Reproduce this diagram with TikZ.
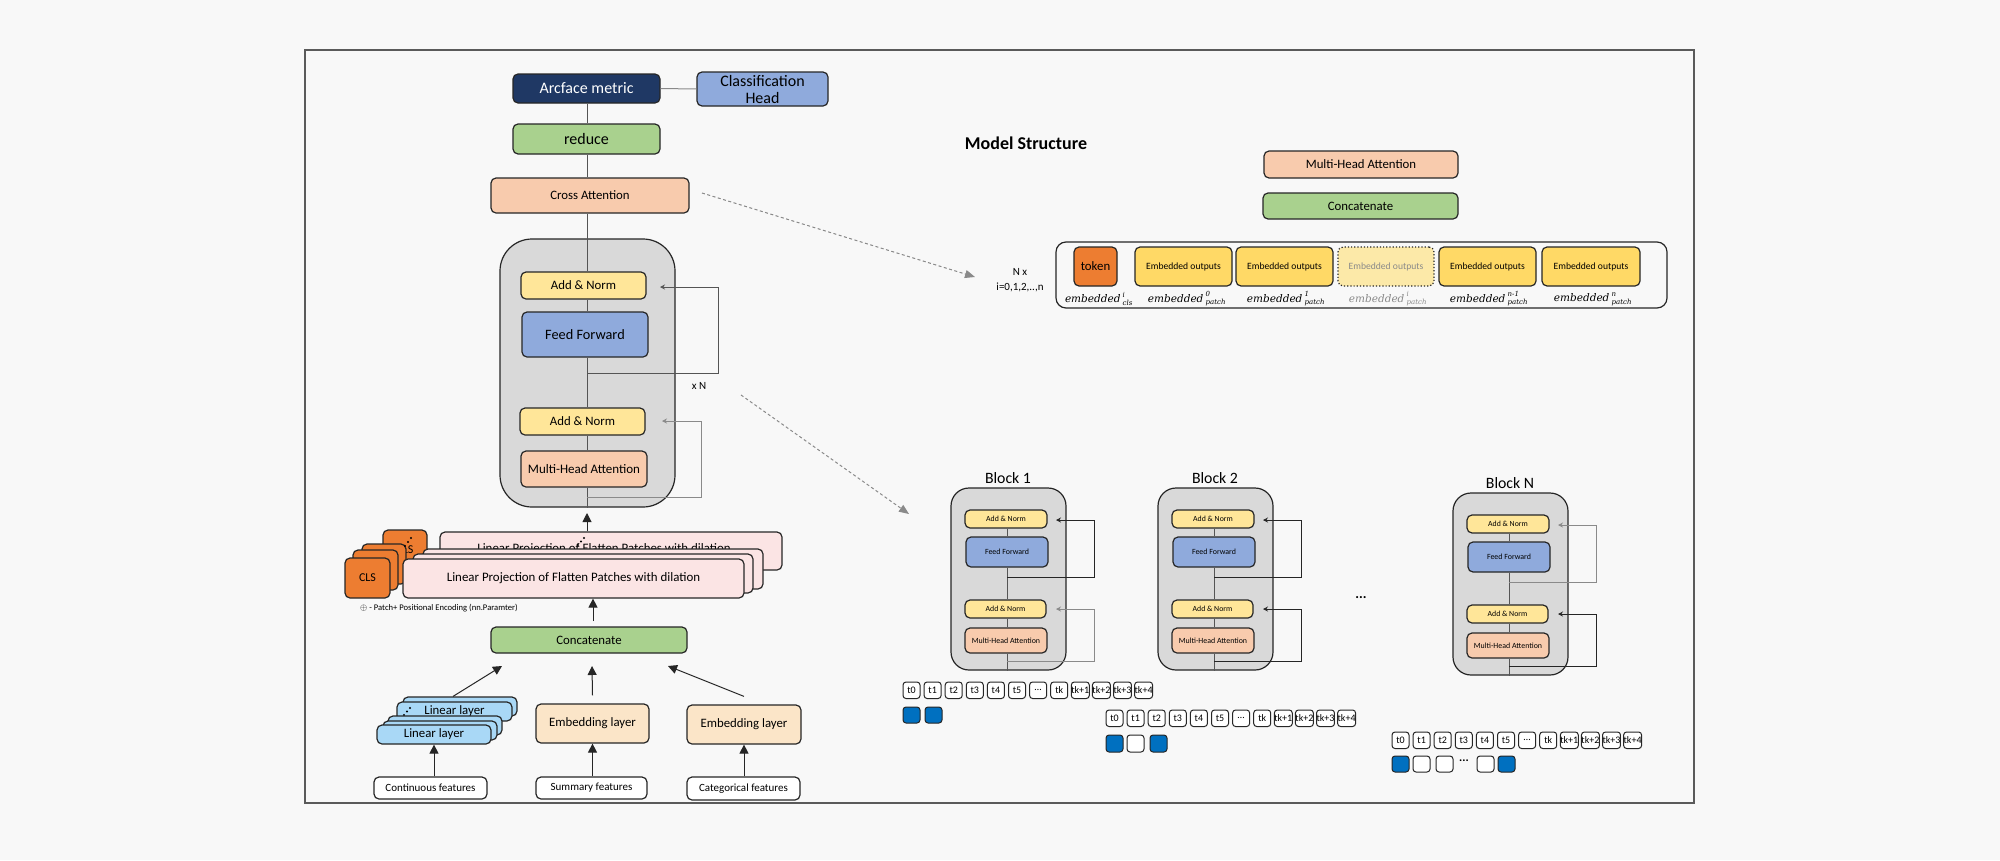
\documentclass[tikz,border=0pt]{standalone}
\usepackage{fontspec}
\setmainfont{Carlito}
\newfontfamily\dvs{DejaVu Serif}
\usetikzlibrary{arrows.meta,calc}

\definecolor{bgc}{HTML}{F8F8F8}
\definecolor{framec}{HTML}{5A5A5A}
\definecolor{lc}{HTML}{262626}
\definecolor{navy}{HTML}{1F3864}
\definecolor{cblue}{HTML}{8FAADC}
\definecolor{cgreen}{HTML}{A9D18E}
\definecolor{cpeach}{HTML}{F8CBAD}
\definecolor{cyel}{HTML}{FFE699}
\definecolor{cgray}{HTML}{D9D9D9}
\definecolor{cpink}{HTML}{FBE4E4}
\definecolor{corange}{HTML}{ED7D31}
\definecolor{cgold}{HTML}{FFD966}
\definecolor{cfade}{HTML}{FCE9A8}
\definecolor{lblue}{HTML}{A9D8F6}
\definecolor{cembed}{HTML}{FBE5C8}
\definecolor{tblue}{HTML}{0070C0}
\definecolor{wire}{HTML}{555555}
\definecolor{dgray}{HTML}{8A8A8A}

\newcommand{\fsz}[1]{\fontsize{#1}{#1}\selectfont}
\newcommand{\bx}[7]{\node[box,#6,minimum width={(#4)-(#2)},minimum height={(#5)-(#3)}] (#1) at ({((#2)+(#4))/2},{((#3)+(#5))/2}) {#7};}
\newcommand{\emb}[2]{\ensuremath{\hbox{\dvs\itshape embedded}^{\hbox{\dvs\itshape\fsz{7} #1}}_{\hbox{\dvs\itshape\fsz{7} #2}}}}

\tikzset{
 box/.style={draw=lc, line width=1.2, rounded corners=5, inner sep=0, align=center, text=black, font=\fsz{12.8}},
 wirel/.style={draw=wire, line width=1},
 loopa/.style={draw=lc, line width=1, -{Stealth[length=5,width=5]}},
 loopg/.style={draw=dgray, line width=1, -{Stealth[length=5,width=5]}},
 uparr/.style={draw=lc, line width=1, -{Triangle[length=9,width=9]}},
 dasharr/.style={draw=dgray, line width=1, dash pattern=on 3 off 2.5, -{Triangle[length=10,width=8]}},
 tok/.style={rounded corners=3, line width=1, fill=white, font=\fsz{10}},
 sq/.style={rounded corners=3, line width=1},
 lbl/.style={font=\fsz{10.5}, inner sep=0},
}

\newcommand{\blk}[6]{%
\begin{scope}[shift={(#2,#3)}]
\node[font=\fsz{15.8}, inner sep=0] (#1t) at (1008,478) {#4};
\bx{#1box}{951}{488}{1066}{670}{fill=cgray, rounded corners=18}{}
\bx{#1an1}{965}{510}{1047}{528}{fill=cyel, font=\fsz{7.8}}{Add \& Norm}
\bx{#1ff}{966}{537}{1048}{567}{fill=cblue, font=\fsz{7.9}}{Feed Forward}
\bx{#1an2}{965}{600}{1046}{618}{fill=cyel, font=\fsz{7.8}}{Add \& Norm}
\bx{#1mha}{965}{628}{1047}{653}{fill=cpeach, font=\fsz{7.9}}{Multi-Head Attention}
\coordinate (#1v) at (1007,0);
\coordinate (#1j1) at (1007,577);
\coordinate (#1j2) at (1007,661);
\coordinate (#1e1) at (1056,520);
\coordinate (#1e2) at (1056,609);
\coordinate (#1r) at (1094.5,0);
\draw[wirel] (#1an1.south -| #1v) -- (#1ff.north -| #1v);
\draw[wirel] (#1ff.south -| #1v) -- (#1an2.north -| #1v);
\draw[wirel] (#1an2.south -| #1v) -- (#1mha.north -| #1v);
\draw[wirel] (#1mha.south -| #1v) -- (#1box.south -| #1v);
\draw[#5] (#1j1) -- (#1j1 -| #1r) |- (#1e1);
\draw[#6] (#1j2) -- (#1j2 -| #1r) |- (#1e2);
\end{scope}}

\newcommand{\trow}[3]{%
\foreach \lab [count=\i from 0] in {t0,t1,t2,t3,t4,t5,{\ldots},tk,tk+1,tk+2,tk+3,tk+4}{
  \bx{#1\i}{#2+21.1*\i}{#3}{#2+21.1*\i+17}{#3+16.5}{tok}{\lab}
}}

\begin{document}
\begin{tikzpicture}[x=1pt,y=-1pt]
\fill[bgc] (0,0) rectangle (2000,860);
\useasboundingbox (0,0) rectangle (2000,860);
\draw[framec, line width=2] (305,50) rectangle (1694,803);

% ---------- main column ----------
\coordinate (vx) at (587,0);
\bx{arc}{513}{74}{660}{103}{fill=navy, text=white, font=\fsz{16}}{Arcface metric}
\bx{chead}{697}{72}{828}{106}{fill=cblue, font=\fontsize{16}{17}\selectfont}{Classification\\Head}
\bx{red}{513}{124}{660}{154}{fill=cgreen, font=\fsz{16}}{reduce}
\bx{cross}{491}{178}{689}{213}{fill=cpeach}{Cross Attention}
\bx{tbox}{500}{239}{675}{507}{fill=cgray, rounded corners=32}{}
\bx{an1}{521}{272}{646}{299}{fill=cyel}{Add \& Norm}
\bx{ff}{522}{312}{648}{357}{fill=cblue, font=\fsz{14.3}}{Feed Forward}
\bx{an2}{520}{408}{645}{435}{fill=cyel}{Add \& Norm}
\bx{mha}{521}{451}{647}{487}{fill=cpeach, font=\fsz{13}}{Multi-Head Attention}

\draw[wirel, draw=dgray] (arc.east) -- (chead.west);
\draw[wirel] (arc.south -| vx) -- (red.north -| vx);
\draw[wirel] (red.south -| vx) -- (cross.north -| vx);
\draw[wirel] (cross.south -| vx) -- (an1.north -| vx);
\draw[wirel] (an1.south -| vx) -- (ff.north -| vx);
\draw[wirel] (ff.south -| vx) -- (an2.north -| vx);
\draw[wirel] (an2.south -| vx) -- (mha.north -| vx);
\draw[wirel] (mha.south -| vx) -- (tbox.south -| vx);

\coordinate (mj1) at (587,373);
\coordinate (mr1) at (718,0);
\coordinate (me1) at (660,287);
\coordinate (mj2) at (587,497);
\coordinate (mr2) at (701,0);
\coordinate (me2) at (662,421);
\draw[loopg, draw=wire] (mj1) -- (mj1 -| mr1) |- (me1);
\draw[loopg] (mj2) -- (mj2 -| mr2) |- (me2);
\node[font=\fsz{11}, inner sep=0] (xn) at (699,386) {x N};

% ---------- CLS stack ----------
\bx{cb}{383}{530}{427}{570}{fill=corange, font=\fsz{12}}{CLS}
\bx{cma}{362}{544}{406}{584}{fill=corange}{}
\bx{cmb}{353}{550}{398}{590}{fill=corange}{}
\bx{cf}{345}{558}{390}{598}{fill=corange, font=\fsz{12}}{CLS}
\fill[black] (405,546) circle (1.1) (408,542) circle (1.1) (411,538) circle (1.1);

% ---------- linear projection stack ----------
\bx{pb}{440}{532}{782}{570}{fill=cpink}{}
\node[font=\fsz{12.9}, inner sep=0] (pbt) at (604,549) {Linear Projection of Flatten Patches with dilation};
\fill[black] (578,545) circle (1.1) (581,541.5) circle (1.1) (584,538) circle (1.1);
\bx{pm1}{423}{549}{763}{589}{fill=cpink}{}
\bx{pm2}{413}{554}{753}{593}{fill=cpink}{}
\bx{pf}{403}{559}{744}{598}{fill=cpink, font=\fsz{12.9}}{Linear Projection of Flatten Patches with dilation}
\coordinate (ptip) at (587,513);
\draw[uparr] (pb.north -| vx) -- (ptip);
\node[font=\fsz{8.6}, anchor=west, inner sep=0] (penc) at (360,608) {$\oplus$ - Patch+ Positional Encoding (nn.Paramter)};

% ---------- concatenate and inputs ----------
\bx{cat}{491}{627}{687}{653}{fill=cgreen}{Concatenate}
\coordinate (cax) at (593,0);
\coordinate (cas) at (593,621);
\draw[uparr] (cas) -- (pf.south -| cax);

\bx{lin1}{403}{697}{517}{716}{fill=lblue}{}
\bx{lin2}{397}{702}{512}{721}{fill=lblue}{Linear layer}
\fill[black] (404,715) circle (1.1) (407,711.5) circle (1.1) (410,708) circle (1.1);
\bx{lin3}{388}{716}{502}{735}{fill=lblue}{}
\bx{lin4}{383}{721}{497}{740}{fill=lblue}{}
\bx{lin5}{377}{725}{491}{744}{fill=lblue}{Linear layer}
\bx{emb1}{536}{704}{649}{743}{fill=cembed}{Embedding layer}
\bx{emb2}{687}{705}{801}{744}{fill=cembed}{Embedding layer}
\bx{fcont}{374}{777}{487}{799}{fill=white, font=\fsz{11}}{Continuous features}
\bx{fsum}{536}{777}{647}{799}{fill=white, font=\fsz{11}}{Summary features}
\bx{fcat}{687}{777}{800}{800}{fill=white, font=\fsz{11}}{Categorical features}

\draw[uparr] (fcont.north -| lin5.south) -- (lin5.south);
\draw[uparr] (fsum.north -| emb1.south) -- (emb1.south);
\draw[uparr] (fcat.north -| emb2.south) -- (emb2.south);
\coordinate (k1) at (502,666);
\coordinate (k2) at (592,666);
\coordinate (k3) at (668,666);
\draw[uparr] ($(lin1.north)+(-7,0)$) -- (k1);
\draw[uparr] ($(emb1.north)+(0,-8)$) -- (k2);
\draw[uparr] ($(emb2.north)+(0,-8)$) -- (k3);

% ---------- right side: model structure ----------
\node[font=\bfseries\fsz{18}, inner sep=0] (title) at (1026,143) {Model Structure};
\bx{lmha}{1264}{151}{1458}{178}{fill=cpeach}{Multi-Head Attention}
\bx{lcat}{1263}{193}{1458}{219}{fill=cgreen}{Concatenate}
\bx{cont}{1056}{242}{1667}{308}{rounded corners=10}{}
\bx{tok}{1074}{247}{1117}{286}{fill=corange}{token}
\bx{eo1}{1135}{247}{1232}{286}{fill=cgold, font=\fsz{9.6}}{Embedded outputs}
\bx{eo2}{1236}{247}{1333}{286}{fill=cgold, font=\fsz{9.6}}{Embedded outputs}
\bx{eo3}{1338}{247}{1434}{286}{fill=cfade, dotted, text=dgray, font=\fsz{9.6}}{Embedded outputs}
\bx{eo4}{1439}{247}{1536}{286}{fill=cgold, font=\fsz{9.6}}{Embedded outputs}
\bx{eo5}{1542}{247}{1640}{286}{fill=cgold, font=\fsz{9.6}}{Embedded outputs}
\node[lbl] (m0) at (1099,299) {\emb{i}{cls}};
\node[lbl] (m1) at (1187,299) {\emb{0}{patch}};
\node[lbl] (m2) at (1286,299) {\emb{1}{patch}};
\node[lbl, text=dgray] (m3) at (1388,299) {\emb{i}{patch}};
\node[lbl] (m4) at (1489,299) {\emb{n-1}{patch}};
\node[lbl] (m5) at (1593,299) {\emb{n}{patch}};
\node[font=\fontsize{11}{15}\selectfont, align=center, inner sep=0] (nx) at (1020,280) {N x\\i=0,1,2,..,n};

\coordinate (d1s) at (702,193);
\coordinate (d1e) at (975,277);
\draw[dasharr] (d1s) -- (d1e);
\coordinate (d2s) at (741,395);
\coordinate (d2e) at (909,514);
\draw[dasharr] (d2s) -- (d2e);

% ---------- blocks ----------
\blk{ba}{0}{0}{Block 1}{loopa}{loopg}
\blk{bb}{207}{0}{Block 2}{loopa}{loopa}
\blk{bn}{502}{5}{Block N}{loopg}{loopa}
\node[font=\bfseries\fsz{14}, inner sep=0] (gap) at (1361,598) {...};

% ---------- token rows ----------
\trow{ra}{903}{682}
\bx{sa0}{903}{707}{920}{723}{sq, fill=tblue}{}
\bx{sa1}{925}{707}{942}{723}{sq, fill=tblue}{}

\trow{rb}{1106}{710}
\bx{sb0}{1106}{735}{1123}{752}{sq, fill=tblue}{}
\bx{sb1}{1127}{735}{1144}{752}{sq, fill=white}{}
\bx{sb2}{1150}{735}{1167}{752}{sq, fill=tblue}{}

\trow{rn}{1392}{732}
\bx{sn0}{1392}{756}{1409}{772}{sq, fill=tblue}{}
\bx{sn1}{1413}{756}{1430}{772}{sq, fill=white}{}
\bx{sn2}{1436}{756}{1453}{772}{sq, fill=white}{}
\node[font=\bfseries\fsz{12}, inner sep=0] (sndots) at (1464,761) {...};
\bx{sn3}{1477}{756}{1494}{772}{sq, fill=white}{}
\bx{sn4}{1498}{756}{1515}{772}{sq, fill=tblue}{}
\end{tikzpicture}
\end{document}
